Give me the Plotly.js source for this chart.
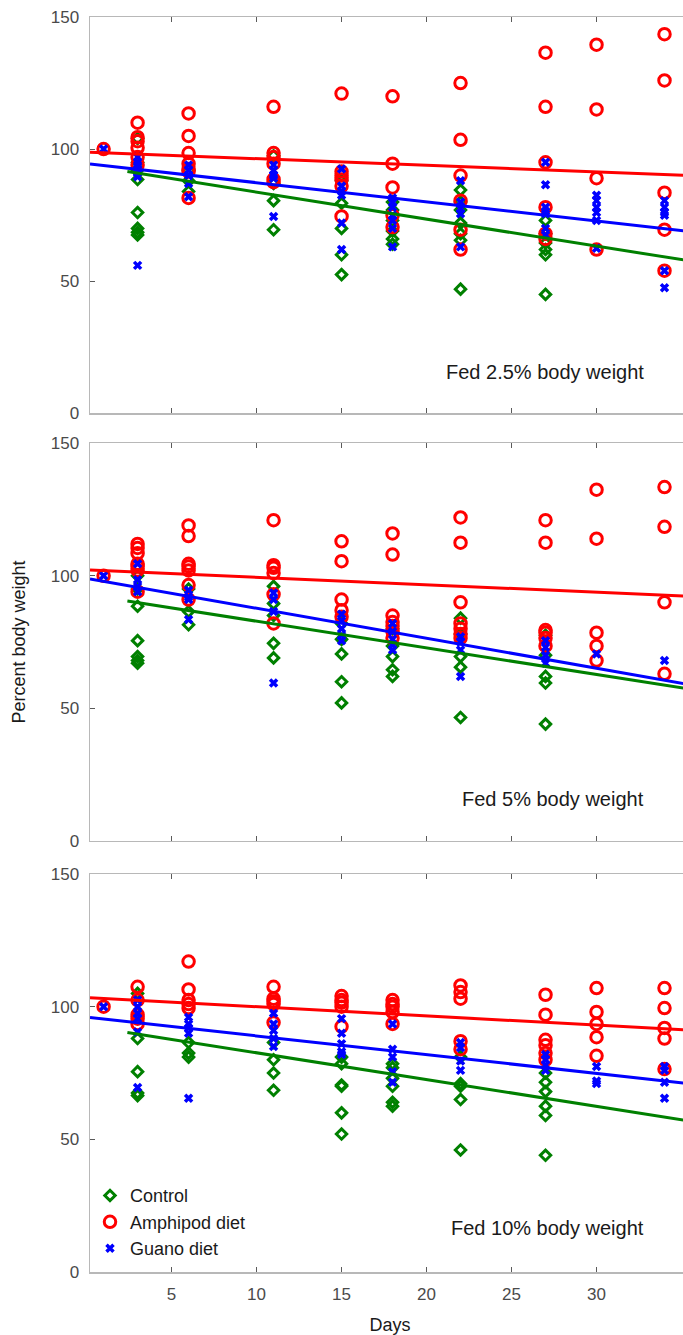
<!DOCTYPE html>
<html>
<head>
<meta charset="utf-8">
<script src="https://cdn.plot.ly/plotly-3.0.1.min.js"></script>
<style>
html,body{margin:0;padding:0;overflow:hidden;background:#fff;}
#chart{width:700px;height:1335px;}
</style>
</head>
<body>
<div id="chart"></div>
<script>
// ---- data ----
const days = [1, 3, 6, 11, 15, 18, 22, 27, 30, 34];
const seriesNames = ["Control", "Amphipod diet", "Guano diet"];
const panelLabels = ["Fed 2.5% body weight", "Fed 5% body weight", "Fed 10% body weight"];
const xTicks = [5, 10, 15, 20, 25, 30];
const yTicks = [0, 50, 100, 150];

// Fed 2.5%
const ctrl_25 = [[], [104, 95, 92, 88.5, 76, 70, 68.5, 67.5], [92, 88, 84], [97.5, 87, 80.5, 69.5], [88, 79.5, 70, 60, 52.5], [80, 77, 73, 69, 66, 64], [84.5, 80, 77, 72, 68, 65.5, 47], [73, 68, 64.5, 62, 60, 45], [], []];
const amph_25 = [[100], [110, 104.5, 103, 100.5, 97, 94], [113.5, 105, 98.5, 94.5, 92.5, 91.5, 81.5], [116, 98.5, 97, 94.5, 88.5, 87.5], [121, 91.5, 90, 88.5, 86, 74.5], [120, 94.5, 85.5, 75, 70.5], [125, 103.5, 90, 80.5, 69.5, 62], [136.5, 116, 95, 78, 68, 66], [139.5, 115, 89, 62], [143.5, 126, 83.5, 69.5, 54]];
const guano_25 = [[100], [97, 95, 94, 92.5, 91, 89.5, 56], [94, 92, 90, 87, 82], [94, 92, 90, 89, 74.5], [92.5, 86, 84, 82.5, 72, 62], [81.5, 80, 78, 75, 73, 70, 63], [88, 80, 77.5, 75.5, 63], [95, 86.5, 78, 76.5, 75.5, 70, 67.5], [82.5, 80.5, 78, 76, 73, 62.5], [80.5, 78, 76, 75, 54, 47.5]];

// Fed 5%
const ctrl_5 = [[], [100, 95, 88.5, 75.5, 69.5, 68, 67], [95, 86.5, 81.5], [96, 89.5, 85, 74.5, 69], [82, 76, 70.5, 60, 52], [80, 73.5, 69.5, 64.5, 62], [84, 78, 69.5, 65.5, 46.5], [77.5, 70, 62, 59.5, 44], [], []];
const amph_5 = [[100], [112, 110.5, 108.5, 104.5, 103.5, 102, 94], [119, 115, 104.5, 103.5, 102, 96.5, 91], [121, 104, 103, 101, 93, 82], [113, 105.5, 91, 87, 84.5], [116, 108, 85, 82.5, 81, 79, 76.5], [122, 112.5, 90, 82, 80, 78, 76.5], [121, 112.5, 79.5, 78.5, 76.5, 73.5], [132.5, 114, 78.5, 73.5, 68], [133.5, 118.5, 90, 63]];
const guano_5 = [[100], [104.5, 98.5, 96, 94], [94.5, 92, 91, 83.5], [93.5, 91, 86.5, 59.5], [85.5, 83, 80, 77.5, 75.5], [82, 79, 76, 74, 72], [77, 75, 72, 62], [75.5, 73, 70, 67], [70.5], [68]];

// Fed 10%
const ctrl_10 = [[], [105, 88, 75.5, 67.5, 66.5], [86.5, 82.5, 81], [86.5, 80, 75, 68.5], [81, 78.5, 70.5, 70, 60, 52], [78.5, 77, 73, 70, 64, 62.5], [81, 71, 70, 65, 46], [75, 71.5, 68, 62.5, 59, 44], [], []];
const amph_10 = [[100], [107.5, 102.5, 97, 95.5, 93.5], [117, 106.5, 102.5, 101, 99.5], [107.5, 103, 102, 101, 94], [104, 102.5, 101.5, 100, 92.5], [102.5, 101, 100, 98, 93.5], [108, 105.5, 103, 87, 84], [104.5, 97, 87.5, 85.5, 82.5, 80], [107, 98, 93.5, 88.5, 81.5], [107, 99.5, 92, 88, 76.5]];
const guano_10 = [[100], [102.5, 100, 97.5, 95.5, 90.5, 69.5], [96, 93.5, 92, 90, 65.5], [97.5, 93.5, 91, 88, 85], [95.5, 90, 86, 83, 82], [93.5, 84, 81, 75.5, 71.5], [86.5, 84.5, 79.5, 76], [82, 80, 78, 76], [77.5, 72, 71], [77.5, 76, 71.5, 65.5]];

// regression lines: [control, amphipod, guano] intercept and slope per panel
const fitIntercept_25 = [93.95, 98.85, 94.55];
const fitSlope_25 = [-1.022, -0.248, -0.726];
const fitIntercept_5 = [92.9, 102.26, 99.03];
const fitSlope_5 = [-1.006, -0.283, -1.131];
const fitIntercept_10 = [92.72, 103.47, 96.04];
const fitSlope_10 = [-1.009, -0.347, -0.706];
const fitStart = [2.4, 0.2, 0.2];

// ---- styling ----
const colors = ["#008000", "#ff0000", "#0000ff"];
const xRange = [0.2, 35.5];
const FONT = "Liberation Sans, Arial, Helvetica, sans-serif";
const markerStyles = [
  {symbol: "diamond-open", size: 8, color: colors[0], line: {width: 3, color: colors[0]}},
  {symbol: "circle-open", size: 11.5, color: colors[1], line: {width: 3, color: colors[1]}},
  {symbol: "x-thin-open", size: 7, color: colors[2], line: {width: 3.5, color: colors[2]}}
];

function flatten(nested) {
  const x = [], y = [];
  nested.forEach((vals, i) => vals.forEach(v => { x.push(days[i]); y.push(v); }));
  return {x, y};
}

const panels = [
  {series: [ctrl_25, amph_25, guano_25], ic: fitIntercept_25, sl: fitSlope_25},
  {series: [ctrl_5, amph_5, guano_5], ic: fitIntercept_5, sl: fitSlope_5},
  {series: [ctrl_10, amph_10, guano_10], ic: fitIntercept_10, sl: fitSlope_10}
];

const traces = [];
panels.forEach((p, pi) => {
  const xa = pi === 0 ? "x" : "x" + (pi + 1);
  const ya = pi === 0 ? "y" : "y" + (pi + 1);
  p.series.forEach((s, si) => {
    const f = flatten(s);
    traces.push({
      type: "scatter", mode: "markers", x: f.x, y: f.y, xaxis: xa, yaxis: ya,
      name: seriesNames[si], showlegend: pi === 2,
      marker: markerStyles[si], hoverinfo: "x+y+name"
    });
  });
  p.series.forEach((s, si) => {
    const xs = [fitStart[si], xRange[1]];
    traces.push({
      type: "scatter", mode: "lines", x: xs, y: xs.map(v => p.ic[si] + p.sl[si] * v),
      xaxis: xa, yaxis: ya, showlegend: false,
      line: {color: colors[si], width: 3}, hoverinfo: "skip"
    });
  });
});

const domains = [[0.6842, 1.0], [0.3437, 0.6603], [0.0, 0.3171]];
const axisCommon = {
  showline: true, mirror: "ticks", linecolor: "#b8b8b8", linewidth: 1.5,
  ticks: "inside", ticklen: 5, tickwidth: 1, tickcolor: "#5a5a5a",
  showgrid: false, zeroline: false,
  tickfont: {family: FONT, size: 17, color: "#4a4a4a"}
};

const layout = {
  width: 700, height: 1335,
  margin: {l: 90, r: 10, t: 17, b: 63},
  paper_bgcolor: "#ffffff", plot_bgcolor: "#ffffff",
  font: {family: FONT, size: 17, color: "#262626"},
  showlegend: true,
  legend: {
    x: 0.0, y: 0.0755, xanchor: "left", yanchor: "top",
    bgcolor: "rgba(0,0,0,0)", borderwidth: 0, tracegroupgap: 0,
    font: {family: FONT, size: 18, color: "#1a1a1a"}
  },
  annotations: []
};

for (let i = 0; i < 3; i++) {
  const xk = i === 0 ? "xaxis" : "xaxis" + (i + 1);
  const yk = i === 0 ? "yaxis" : "yaxis" + (i + 1);
  const ya = i === 0 ? "y" : "y" + (i + 1);
  const xa = i === 0 ? "x" : "x" + (i + 1);
  layout[xk] = Object.assign({}, axisCommon, {
    domain: [0, 1], anchor: ya, range: xRange, tickvals: xTicks,
    ticktext: xTicks.map(String), showticklabels: i === 2, ticklabelstandoff: 6
  });
  if (i === 2) {
    layout[xk].title = {text: "Days", font: {family: FONT, size: 18, color: "#1a1a1a"}, standoff: 15};
  }
  layout[yk] = Object.assign({}, axisCommon, {
    domain: domains[i], anchor: xa, range: [0, 150], tickvals: yTicks,
    ticktext: yTicks.map(String), ticklabelstandoff: 6
  });
  if (i === 1) {
    layout[yk].title = {text: "Percent body weight", font: {family: FONT, size: 18, color: "#1a1a1a"}, standoff: 20};
  }
  layout.annotations.push({
    xref: xa, yref: ya, x: 32.9, y: i === 2 ? 16.6 : 15.7, xanchor: "right", yanchor: "middle",
    text: panelLabels[i], showarrow: false,
    font: {family: FONT, size: 20, color: "#1a1a1a"}
  });
}

Plotly.newPlot("chart", traces, layout, {displayModeBar: false, staticPlot: true});
</script>
</body>
</html>
